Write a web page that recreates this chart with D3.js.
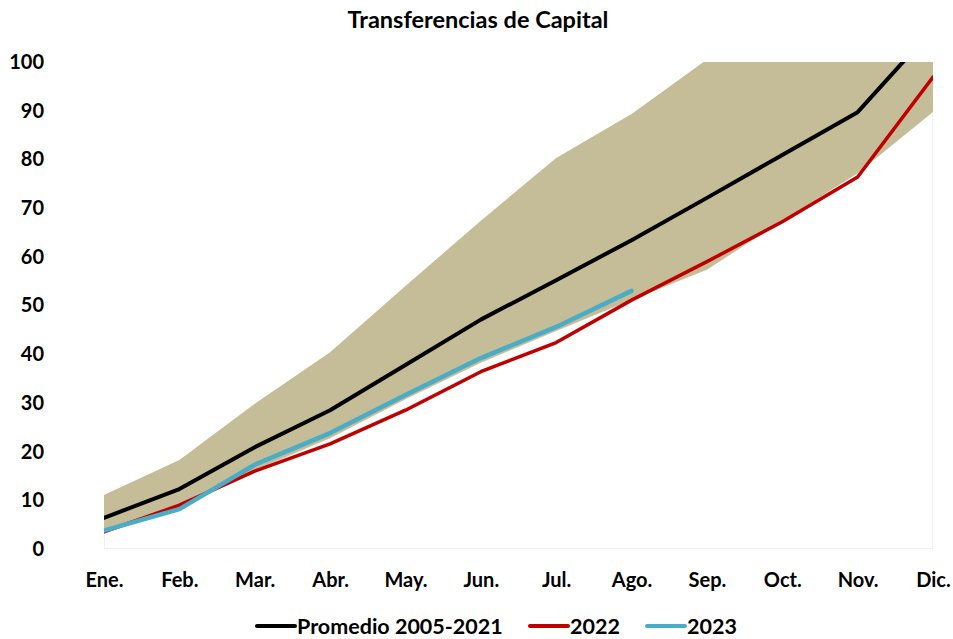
<!DOCTYPE html>
<html>
<head>
<meta charset="utf-8">
<script src="https://d3js.org/d3.v7.min.js"></script>
<style>
    body { margin: 0; background: #fff; }
    svg { display: block; font-family: Lato, sans-serif; font-weight: bold; }
    .tick text { font-family: Lato, sans-serif; font-size: 20px; fill: #000; }
</style>
</head>
<body>
<svg width="953" height="639"></svg>
<script>
    // datos
    const months = ["Ene.", "Feb.", "Mar.", "Abr.", "May.", "Jun.", "Jul.", "Ago.", "Sep.", "Oct.", "Nov.", "Dic."];
    const bandMin = [3.6, 8.2, 16.2, 22.8, 30.8, 38.3, 44.8, 51.2, 57.4, 67.4, 77.2, 89.8];
    const bandMax = [11.1, 18.3, 29.8, 40.4, 54.0, 67.4, 80.3, 89.3, 100.5, 112, 124, 138];
    const promedio = [6.4, 12.3, 20.9, 28.5, 37.8, 47.1, 55.2, 63.4, 72.1, 80.9, 89.7, 106.8];
    const y2022 = [3.5, 9.0, 16.0, 21.6, 28.5, 36.4, 42.4, 51.1, 59.0, 67.2, 76.4, 96.9];
    const y2023 = [3.8, 8.2, 17.3, 23.8, 31.6, 39.2, 45.6, 53.0];
    const yTicks = [0, 10, 20, 30, 40, 50, 60, 70, 80, 90, 100];

    const margin = {top: 62, right: 20, bottom: 90, left: 104},
          width = 953 - margin.left - margin.right,
          height = 639 - margin.top - margin.bottom;

    const x = d3.scalePoint().domain(months).range([0, width]);
    const y = d3.scaleLinear().domain([0, 100]).range([height, 0]);

    const svg = d3.select("svg");
    const g = svg.append("g").attr("transform", `translate(${margin.left},${margin.top})`);

    svg.append("defs").append("clipPath").attr("id", "plot")
        .append("rect").attr("width", width).attr("height", height);

    const band = months.map((m, i) => ({m, lo: bandMin[i], hi: bandMax[i]}));

    const plot = g.append("g").attr("clip-path", "url(#plot)");

    // area inferior (transparente, con borde tenue)
    plot.append("path")
        .datum(band)
        .attr("fill", "none")
        .attr("stroke", "#e6e3d6")
        .attr("stroke-width", 1)
        .attr("d", d3.area().x(d => x(d.m)).y0(height).y1(d => y(d.lo)));

    // rango min-max
    plot.append("path")
        .datum(band)
        .attr("fill", "#c4bd97")
        .attr("d", d3.area().x(d => x(d.m)).y0(d => y(d.lo)).y1(d => y(d.hi)));

    const line = d3.line().x(d => x(d.m)).y(d => y(d.v));
    const series = [
        {name: "Promedio 2005-2021", values: promedio, color: "#000000", w: 4},
        {name: "2022", values: y2022, color: "#c00000", w: 3.5},
        {name: "2023", values: y2023, color: "#4bacc6", w: 4.5}
    ];

    series.forEach(s => {
        plot.append("path")
            .datum(s.values.map((v, i) => ({m: months[i], v})))
            .attr("fill", "none")
            .attr("stroke", s.color)
            .attr("stroke-width", s.w)
            .attr("stroke-linejoin", "round")
            .attr("stroke-linecap", "round")
            .attr("d", line);
    });

    // ejes
    const yAxis = g.append("g")
        .call(d3.axisLeft(y).tickValues(yTicks).tickSize(0).tickPadding(60));
    yAxis.select(".domain").remove();

    const xAxis = g.append("g")
        .attr("transform", `translate(0,${height})`)
        .call(d3.axisBottom(x).tickSize(0).tickPadding(24));
    xAxis.select(".domain").remove();

    // titulo
    svg.append("text")
        .attr("x", 478)
        .attr("y", 28)
        .attr("text-anchor", "middle")
        .style("font-size", "23.5px")
        .text("Transferencias de Capital");

    // leyenda
    const legendItems = [
        {name: series[0].name, color: series[0].color, x: 257},
        {name: series[1].name, color: series[1].color, x: 530},
        {name: series[2].name, color: series[2].color, x: 647}
    ];
    const legend = svg.selectAll(".legend")
        .data(legendItems)
        .enter().append("g")
        .attr("class", "legend")
        .attr("transform", d => `translate(${d.x},626)`);

    legend.append("line")
        .attr("x1", 0).attr("x2", 38)
        .attr("stroke", d => d.color)
        .attr("stroke-width", 4)
        .attr("stroke-linecap", "round");

    legend.append("text")
        .attr("x", 40)
        .attr("dy", "0.35em")
        .style("font-size", "21.5px")
        .text(d => d.name);
</script>
</body>
</html>
